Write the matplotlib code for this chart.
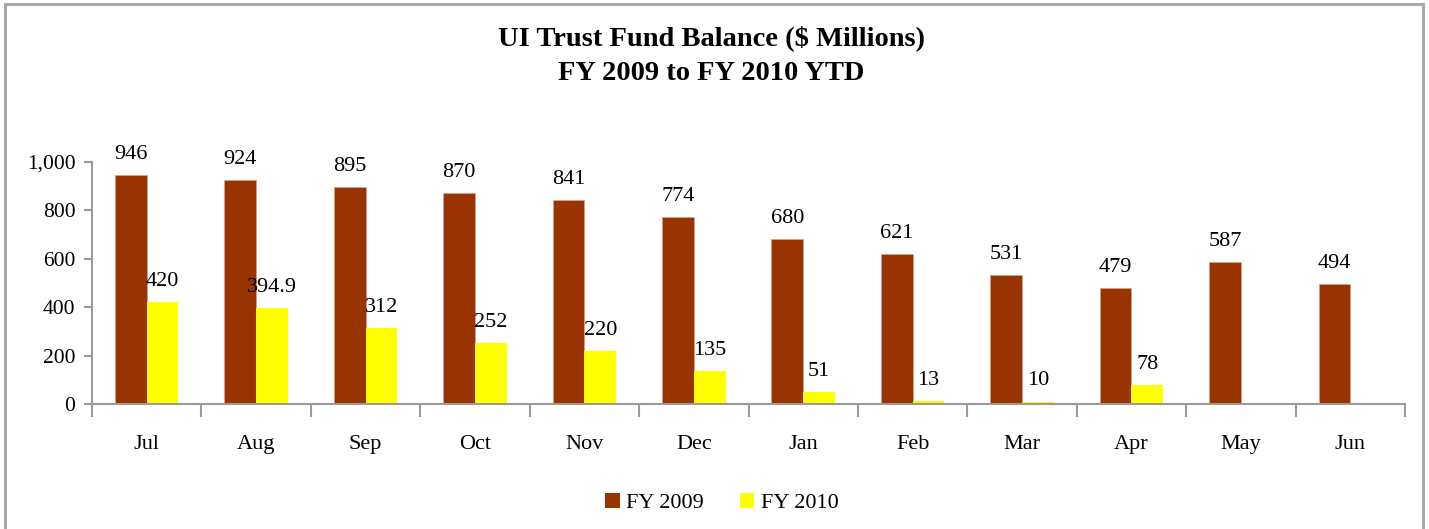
import matplotlib
matplotlib.use("Agg")
import matplotlib.pyplot as plt
from matplotlib.patches import Rectangle, Patch

months = ["Jul", "Aug", "Sep", "Oct", "Nov", "Dec", "Jan", "Feb", "Mar", "Apr", "May", "Jun"]
fy2009 = [946, 924, 895, 870, 841, 774, 680, 621, 531, 479, 587, 494]
fy2010 = [420, 394.9, 312, 252, 220, 135, 51, 13, 10, 78, None, None]
yticks = [0, 200, 400, 600, 800, 1000]

BROWN = "#993300"
YELLOW = "#FFFF00"
AXC = "#9A9A9A"
FS = 16

plt.rcParams["font.family"] = ["Liberation Serif", "DejaVu Serif"]

W, H = 1429, 529
fig = plt.figure(figsize=(W / 100, H / 100), dpi=100)
fig.patch.set_facecolor("white")

# outer chart border
fig.add_artist(Rectangle((5 / W, -0.05), (1423 - 5) / W, 1.05 - 4 / H,
                         transform=fig.transFigure, fill=False,
                         edgecolor="#A8A8A8", linewidth=2.2))

ax = fig.add_axes([92 / W, 1 - 404 / H, (1405 - 92) / W, (404 - 162) / H])

bw = 0.29
x = list(range(len(months)))
xa = [i - bw / 2 for i in x]
ax.bar(xa, fy2009, width=bw, color=BROWN, edgecolor="#D9A890", linewidth=0.4)
idx2 = [i for i, v in enumerate(fy2010) if v is not None]
xb = [x[i] + bw / 2 for i in idx2]
v2 = [fy2010[i] for i in idx2]
ax.bar(xb, v2, width=bw, color=YELLOW, edgecolor="none")

for xi, v in zip(xa, fy2009):
    ax.annotate(f"{v:g}", (xi, v), xytext=(0, 8), textcoords="offset points",
                ha="center", va="bottom", fontsize=FS, color="black")
for xi, v in zip(xb, v2):
    ax.annotate(f"{v:g}", (xi, v), xytext=(0, 8), textcoords="offset points",
                ha="center", va="bottom", fontsize=FS, color="black")

ax.set_xlim(-0.5, len(months) - 0.5)
ax.set_ylim(0, 1000)
ax.set_yticks(yticks)
ax.set_yticklabels([f"{t:,}" for t in yticks], fontsize=15.5)
ax.set_xticks(x)
ax.set_xticklabels(months, fontsize=FS)
ax.set_xticks([i - 0.5 for i in range(len(months) + 1)], minor=True)
ax.tick_params(axis="x", which="major", length=0, pad=22)
ax.tick_params(axis="x", which="minor", length=9, width=1.5, color=AXC)
ax.tick_params(axis="y", length=6, width=1.5, color=AXC, pad=6)

for s in ["top", "right"]:
    ax.spines[s].set_visible(False)
for s in ["left", "bottom"]:
    ax.spines[s].set_color(AXC)
    ax.spines[s].set_linewidth(1.5)

fig.text(711 / W, 1 - 38 / H, "UI Trust Fund Balance ($ Millions)", ha="center",
         va="center", fontsize=20.5, fontweight="bold")
fig.text(711 / W, 1 - 74 / H, "FY 2009 to FY 2010 YTD", ha="center",
         va="center", fontsize=20.5, fontweight="bold")

handles = [Patch(facecolor=BROWN, edgecolor="none", label="FY 2009"),
           Patch(facecolor=YELLOW, edgecolor="none", label="FY 2010")]
fig.legend(handles=handles, loc="center", bbox_to_anchor=(722 / W, 1 - 503 / H),
           ncol=2, frameon=False, fontsize=FS, handlelength=0.65, handleheight=0.65,
           handletextpad=0.3, columnspacing=1.6)

fig.savefig("out.png", dpi=100, facecolor="white")
